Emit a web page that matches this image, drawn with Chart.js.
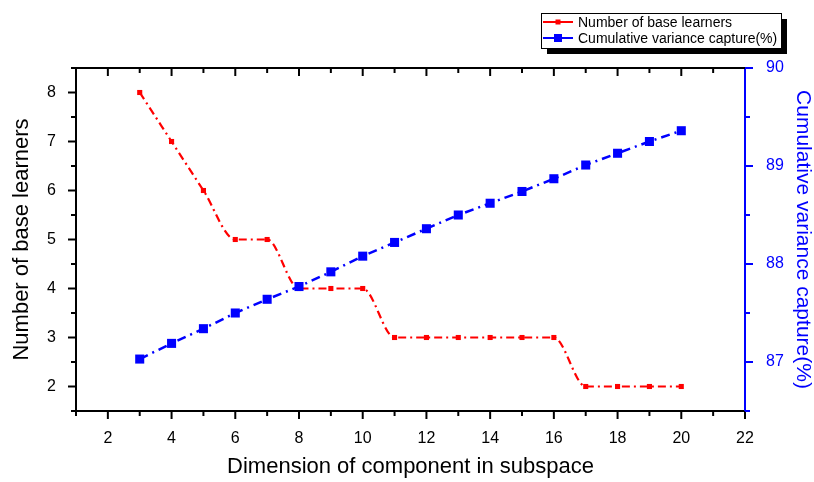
<!DOCTYPE html>
<html>
<head>
<meta charset="utf-8">
<script src="https://cdn.jsdelivr.net/npm/chart.js@4.4.1/dist/chart.umd.min.js"></script>
<style>
  html, body { margin: 0; padding: 0; background: #ffffff; }
  canvas { display: block; }
</style>
</head>
<body>
<canvas id="chart" width="814" height="482"></canvas>
<script>
// ================= Data =================
const dimensions = [3, 4, 5, 6, 7, 8, 9, 10, 11, 12, 13, 14, 15, 16, 17, 18, 19, 20];
const baseLearners = [8, 7, 6, 5, 5, 4, 4, 4, 3, 3, 3, 3, 3, 3, 2, 2, 2, 2];
const varianceCapture = [87.03, 87.19, 87.34, 87.50, 87.64, 87.77, 87.92, 88.08, 88.22,
    88.36, 88.50, 88.62, 88.74, 88.87, 89.01, 89.13, 89.25, 89.36];
const leftTicks = [2, 3, 4, 5, 6, 7, 8];
const seriesNames = ['Number of base learners', 'Cumulative variance capture(%)'];
const xTitle = 'Dimension of component in subspace';
const yTitle = 'Number of base learners';
const y1Title = 'Cumulative variance capture(%)';

const RED = '#ff0000';
const BLUE = '#0000ff';
const FONT = '"Liberation Sans", Arial, sans-serif';

// plot frame box (pixels in the 814x482 canvas)
const FRAME = { left: 76, right: 745, top: 68, bottom: 411 };

// ================= Plugins =================
// Origin-style frame: top border and in/out tick marks, major + minor
const frameTicks = {
    id: 'frameTicks',
    afterDraw(chart) {
        const { ctx, chartArea: a, scales: { x, y, y1 } } = chart;
        const line = (x1, y1_, x2, y2) => {
            ctx.beginPath();
            ctx.moveTo(x1, y1_);
            ctx.lineTo(x2, y2);
            ctx.stroke();
        };
        ctx.save();
        ctx.lineWidth = 2;
        ctx.strokeStyle = '#000000';
        line(a.left - 4, a.top, a.right, a.top);

        // x ticks: outward on bottom, inward on top
        for (let v = x.min; v <= x.max; v += 1) {
            const px = x.getPixelForValue(v);
            const major = v % 2 === 0;
            line(px, a.bottom, px, a.bottom + (major ? 8 : 5));
            if (v > x.min && v < x.max) line(px, a.top, px, a.top + (major ? 8 : 5));
        }
        // left ticks, outward
        for (let v = y.min; v <= y.max + 1e-9; v += 0.5) {
            const py = y.getPixelForValue(v);
            const major = Math.abs(v - Math.round(v)) < 1e-6;
            line(a.left, py, a.left - (major ? 8 : 5), py);
        }
        // right ticks, outward, blue
        ctx.strokeStyle = BLUE;
        for (let v = y1.min; v <= y1.max + 1e-9; v += 0.5) {
            const py = y1.getPixelForValue(v);
            const major = Math.abs(v - Math.round(v)) < 1e-6;
            line(a.right, py, a.right + (major ? 8 : 5), py);
        }
        ctx.restore();
    }
};

// boxed legend with drop shadow, top right
const boxLegend = {
    id: 'boxLegend',
    afterDraw(chart) {
        const { ctx } = chart;
        const bx = 541, by = 13, bw = 240, bh = 35;
        ctx.save();
        ctx.fillStyle = '#000000';
        ctx.fillRect(bx + 6, by + 6, bw, bh);
        ctx.fillStyle = '#ffffff';
        ctx.fillRect(bx, by, bw, bh);
        ctx.strokeStyle = '#000000';
        ctx.lineWidth = 1;
        ctx.strokeRect(bx + 0.5, by + 0.5, bw, bh);

        chart.data.datasets.forEach((ds, i) => {
            const cy = by + 9 + i * 16;
            ctx.strokeStyle = ds.borderColor;
            ctx.lineWidth = 2;
            ctx.beginPath();
            ctx.moveTo(bx + 2, cy);
            ctx.lineTo(bx + 32, cy);
            ctx.stroke();
            const s = i === 0 ? 5 : 8;
            ctx.fillStyle = ds.borderColor;
            ctx.fillRect(bx + 17 - s / 2, cy - s / 2, s, s);
            ctx.fillStyle = '#000000';
            ctx.font = '14px ' + FONT;
            ctx.textBaseline = 'middle';
            ctx.fillText(ds.label, bx + 37, cy + 1);
        });
        ctx.restore();
    }
};

// ================= Chart =================
const toPoints = values => dimensions.map((d, i) => ({ x: d, y: values[i] }));

new Chart(document.getElementById('chart'), {
    type: 'line',
    data: {
        datasets: [
            {
                label: seriesNames[0],
                data: toPoints(baseLearners),
                yAxisID: 'y',
                borderColor: RED,
                backgroundColor: RED,
                borderWidth: 2.2,
                borderDash: [8, 4, 2, 4],
                cubicInterpolationMode: 'monotone',
                pointStyle: 'rect',
                pointRadius: 3.6,
                pointBorderWidth: 0,
                order: 1
            },
            {
                label: seriesNames[1],
                data: toPoints(varianceCapture),
                yAxisID: 'y1',
                borderColor: BLUE,
                backgroundColor: BLUE,
                borderWidth: 2.5,
                borderDash: [9, 5, 2, 5],
                tension: 0,
                pointStyle: 'rect',
                pointRadius: 6.4,
                pointBorderWidth: 0,
                order: 0
            }
        ]
    },
    options: {
        responsive: false,
        animation: false,
        events: [],
        layout: { padding: { top: FRAME.top, left: 0, right: 0, bottom: 0 } },
        plugins: {
            legend: { display: false },
            tooltip: { enabled: false }
        },
        scales: {
            x: {
                type: 'linear',
                min: 1,
                max: 22,
                grid: { display: false },
                border: { display: true, color: '#000000', width: 2 },
                ticks: {
                    stepSize: 2,
                    includeBounds: false,
                    color: '#000000',
                    font: { family: FONT, size: 16 },
                    padding: 10,
                    maxRotation: 0
                },
                title: {
                    display: true,
                    text: xTitle,
                    color: '#000000',
                    font: { family: FONT, size: 22, lineHeight: 1 },
                    padding: { top: 0, bottom: 4 }
                },
                afterFit: s => { s.height = 482 - FRAME.bottom; }
            },
            y: {
                type: 'linear',
                position: 'left',
                min: 1.5,
                max: 8.5,
                grid: { display: false },
                border: { display: true, color: '#000000', width: 2 },
                ticks: {
                    color: '#000000',
                    font: { family: FONT, size: 16 },
                    padding: 12
                },
                afterBuildTicks: s => { s.ticks = leftTicks.map(v => ({ value: v })); },
                title: {
                    display: true,
                    text: yTitle,
                    color: '#000000',
                    font: { family: FONT, size: 22, lineHeight: 1 },
                    padding: { top: 11, bottom: 0 }
                },
                afterFit: s => { s.width = FRAME.left; }
            },
            y1: {
                type: 'linear',
                position: 'right',
                min: 86.5,
                max: 90,
                grid: { display: false },
                border: { display: true, color: BLUE, width: 2 },
                ticks: {
                    stepSize: 1,
                    includeBounds: false,
                    color: BLUE,
                    font: { family: FONT, size: 16 },
                    padding: 13
                },
                title: {
                    display: true,
                    text: y1Title,
                    color: BLUE,
                    font: { family: FONT, size: 21, lineHeight: 1 },
                    padding: { top: 1, bottom: 0 }
                },
                afterFit: s => { s.width = 814 - FRAME.right; }
            }
        }
    },
    plugins: [frameTicks, boxLegend]
});
</script>
</body>
</html>
